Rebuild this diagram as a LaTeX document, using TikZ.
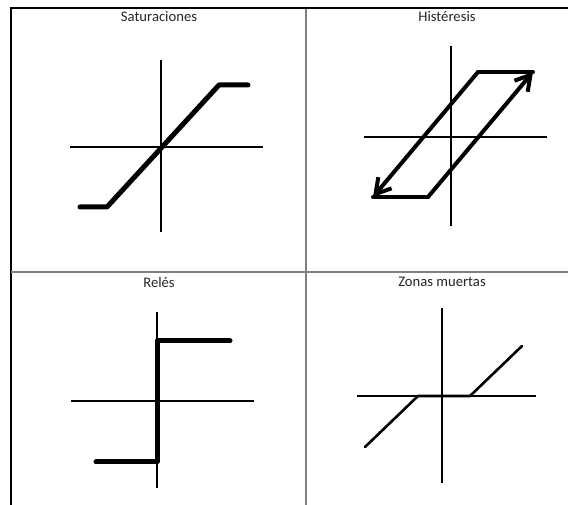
\documentclass[tikz,border=0pt]{standalone}
\usepackage{fontspec}
\setmainfont{Carlito}
\usetikzlibrary{arrows.meta}
\definecolor{gridgray}{HTML}{808080}
\definecolor{titlecol}{HTML}{262626}
\begin{document}
\begin{tikzpicture}[x=0.75pt,y=-0.75pt,
  outer/.style={draw=black, line width=1.1pt},
  divider/.style={draw=gridgray, line width=1.5pt},
  axis/.style={draw=black, line width=1pt},
  thickcurve/.style={draw=black, line width=3.75pt, line cap=round, line join=round},
  hyst/.style={draw=black, line width=3pt, line cap=round, line join=round},
  thincurve/.style={draw=black, line width=1.95pt, line cap=round, line join=round},
  barb/.style={-{Straight Barb[length=11pt,width=13pt,line width=3pt]}},
  title/.style={font=\fontsize{11}{13}\selectfont, text=titlecol, inner sep=0pt}
]
\useasboundingbox (0,0) rectangle (568,505);
% table lines
\draw[outer] (11,505) -- (11,8) -- (568,8);
\draw[divider] (306,9) -- (306,505);
\draw[divider] (11,272) -- (568,272);
% titles
\node[title] (t1) at (159,17) {Saturaciones};
\node[title] (t2) at (447,17) {Histéresis};
\node[title] (t3) at (159,282) {Relés};
\node[title] (t4) at (442,282) {Zonas muertas};
% Saturaciones
\draw[axis] (161,60) -- (161,232);
\draw[axis] (70,147) -- (263,147);
\draw[thickcurve] (80,207) -- (107,207) -- (219,85) -- (248,85);
% Histeresis
\draw[axis] (451,46) -- (451,226);
\draw[axis] (364,137) -- (547,137);
\draw[hyst] (533,72) -- (478,72);
\draw[hyst] (373,197) -- (428,197);
\draw[hyst,barb] (428,197) -- (533,72);
\draw[hyst,barb] (478,72) -- (373,197);
% Reles
\draw[axis] (157,312) -- (157,488);
\draw[axis] (71,401) -- (254,401);
\draw[thickcurve] (96,462) -- (157,462) -- (157,341) -- (230,341);
% Zonas muertas
\draw[axis] (442,308) -- (442,483);
\draw[axis] (357,396) -- (536,396);
\draw[thincurve] (365,447) -- (418,396) -- (470,396) -- (522,346);
\end{tikzpicture}
\end{document}
